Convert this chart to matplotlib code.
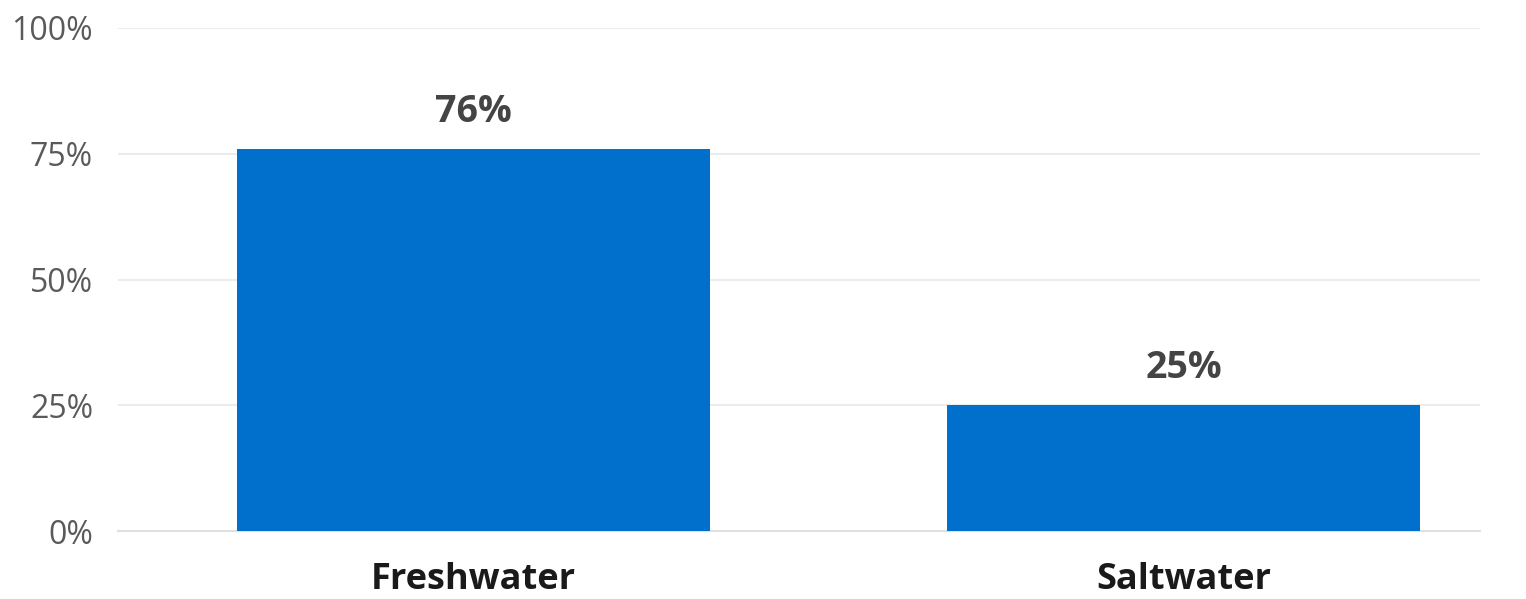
import matplotlib
matplotlib.use("Agg")
import matplotlib.pyplot as plt
from matplotlib.ticker import FuncFormatter

categories = ["Freshwater", "Saltwater"]
values = [76, 25]
value_labels = ["76%", "25%"]
yticks = [0, 25, 50, 75, 100]

plt.rcParams['font.family'] = ['Open Sans', 'DejaVu Sans']

fig = plt.figure(figsize=(15.26, 5.99), dpi=100)
ax = fig.add_axes([118/1526, 1 - 531/599, (1480-118)/1526, (531-28)/599])

x = list(range(len(categories)))
bars = ax.bar(x, values, width=0.666, color="#0070CC", zorder=3)

ax.set_xlim(-0.5, 1.417)
ax.set_ylim(0, 100)
ax.set_yticks(yticks)
ax.yaxis.set_major_formatter(FuncFormatter(lambda v, p: f"{int(v)}%"))
ax.tick_params(axis='y', length=0, pad=18, labelsize=23, labelcolor="#5a5a5a")
ax.set_xticks(x)
ax.set_xticklabels(categories, fontsize=26, fontweight='bold', color="#1a1a1a")
ax.tick_params(axis='x', length=0, pad=22)

ax.grid(axis='y', color="#ececec", linewidth=1.5, zorder=0)
for s in ["top", "right", "left"]:
    ax.spines[s].set_visible(False)
ax.spines["bottom"].set_color("#e0e0e0")
ax.spines["bottom"].set_linewidth(1.5)

for xi, v, lab in zip(x, values, value_labels):
    ax.annotate(lab, (xi, v), xytext=(0, 13), textcoords="offset points",
                ha='center', va='bottom', fontsize=27, fontweight='bold', color="#444444")

fig.savefig("out.png", dpi=100, facecolor="white")
